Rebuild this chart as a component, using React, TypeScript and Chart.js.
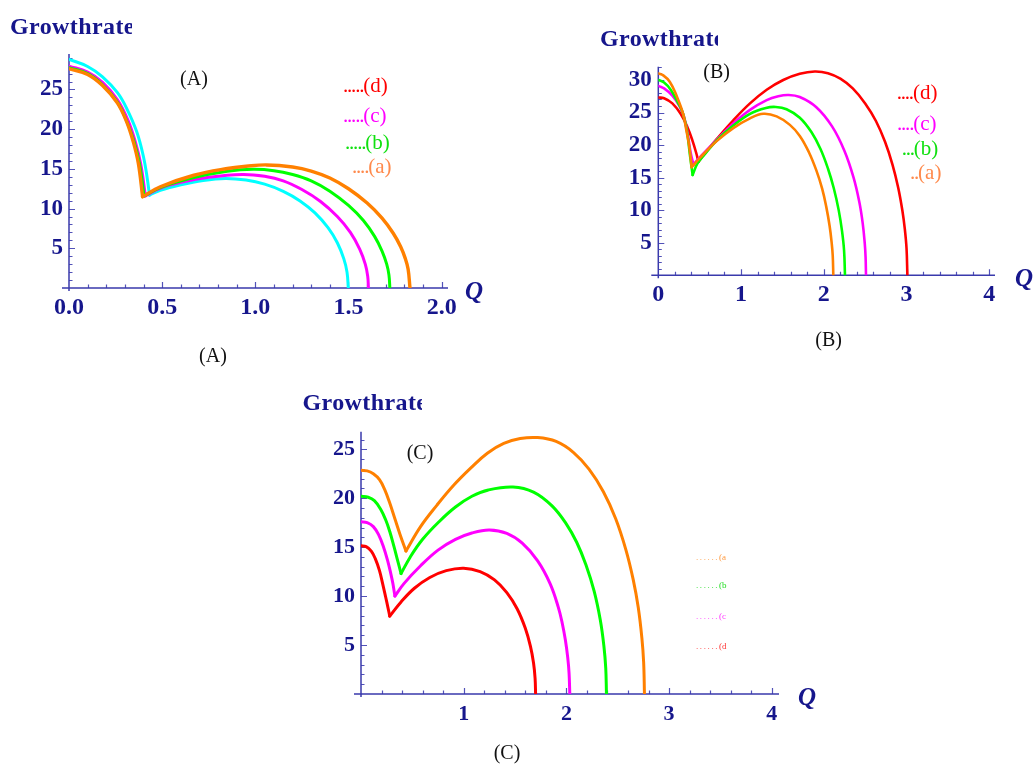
import React, { useEffect, useRef } from 'react';
import { Chart, registerables } from 'chart.js';

Chart.register(...registerables);

const PAGE_W = 1033;
const PAGE_H = 764;
const SERIF = "'Liberation Serif', 'Times New Roman', Times, serif";
const NAVY = '#16168c';
const AXIS_BLUE = '#3a3aac';
const TICK_BLUE = '#5252b8';

const ORANGE = '#ff8000';
const GREEN = '#00ff00';
const MAGENTA = '#ff00ff';
const RED = '#ff0000';
const CYAN = '#00ffff';

// ---------- Panel (A) ----------
const A_xTicks = [0, 0.5, 1, 1.5, 2];
const A_yTicks = [5, 10, 15, 20, 25];

const A_aQ = [0, 0.1, 0.18, 0.26, 0.31, 0.345, 0.372, 0.395, 0.49, 0.67, 0.85, 0.95, 1.06, 1.2, 1.3, 1.4, 1.5, 1.6, 1.68, 1.74, 1.78, 1.805, 1.82, 1.83];
const A_aG = [27.6, 26.9, 25.5, 23.3, 20.9, 18.4, 15.7, 11.5, 12.75, 14.2, 15.05, 15.33, 15.5, 15.24, 14.73, 13.85, 12.5, 10.7, 8.8, 6.9, 5.2, 3.7, 2.35, 0];

const A_bQ = [0, 0.1, 0.18, 0.26, 0.31, 0.35, 0.378, 0.403, 0.49, 0.67, 0.85, 0.99, 1.1, 1.2, 1.3, 1.4, 1.5, 1.58, 1.64, 1.68, 1.705, 1.717, 1.722];
const A_bG = [27.75, 27.0, 25.6, 23.4, 21.0, 18.4, 15.7, 11.6, 12.65, 13.9, 14.7, 14.95, 14.78, 14.3, 13.5, 12.2, 10.4, 8.5, 6.5, 4.65, 3.0, 1.65, 0];

const A_cQ = [0, 0.1, 0.18, 0.26, 0.315, 0.355, 0.385, 0.41, 0.49, 0.6, 0.75, 0.93, 1.05, 1.15, 1.25, 1.35, 1.44, 1.51, 1.56, 1.59, 1.603, 1.607];
const A_cG = [27.95, 27.2, 25.9, 23.7, 21.2, 18.5, 15.6, 11.6, 12.55, 13.3, 13.95, 14.3, 14.07, 13.5, 12.4, 10.9, 9.0, 7.0, 4.9, 3.0, 1.5, 0];

const A_cyanQ = [0, 0.1, 0.18, 0.26, 0.31, 0.363, 0.4, 0.42, 0.432, 0.49, 0.6, 0.72, 0.84, 0.95, 1.05, 1.15, 1.24, 1.32, 1.39, 1.44, 1.475, 1.492, 1.499];
const A_cyanG = [28.8, 27.9, 26.6, 24.6, 22.6, 19.7, 16.5, 13.8, 11.7, 12.3, 13.0, 13.55, 13.8, 13.6, 13.08, 12.18, 10.97, 9.46, 7.6, 5.7, 3.67, 2.0, 0];

// ---------- Panel (B) ----------
const B_xTicks = [0, 1, 2, 3, 4];
const B_yTicks = [5, 10, 15, 20, 25, 30];

const B_aQ = [0, 0.06, 0.14, 0.22, 0.3, 0.34, 0.375, 0.403, 0.5, 0.705, 0.906, 1.108, 1.27, 1.43, 1.59, 1.71, 1.82, 1.91, 1.98, 2.03, 2.07, 2.095, 2.108, 2.115];
const B_aG = [31.0, 30.7, 29.7, 27.6, 24.8, 22.2, 19.7, 16.6, 18.0, 20.6, 22.6, 24.1, 24.8, 24.4, 23.1, 21.4, 18.9, 16.1, 13.3, 10.5, 7.6, 5.0, 3.0, 0];

const B_bQ = [0, 0.07, 0.15, 0.23, 0.3, 0.35, 0.38, 0.415, 0.47, 0.55, 0.705, 0.906, 1.108, 1.3, 1.42, 1.55, 1.71, 1.85, 1.96, 2.05, 2.12, 2.18, 2.22, 2.245, 2.256];
const B_bG = [30.0, 29.6, 28.5, 26.7, 24.8, 21.8, 18.7, 15.4, 17.1, 18.4, 20.7, 23.0, 24.8, 25.7, 25.85, 25.5, 24.2, 22.0, 19.4, 16.4, 13.4, 10.0, 6.8, 3.8, 0];

const B_cQ = [0, 0.07, 0.17, 0.25, 0.31, 0.36, 0.39, 0.425, 0.5, 0.705, 0.906, 1.108, 1.31, 1.45, 1.57, 1.71, 1.91, 2.1, 2.25, 2.36, 2.43, 2.47, 2.495, 2.505, 2.51];
const B_cG = [29.1, 28.7, 27.6, 26.1, 24.4, 21.3, 18.9, 17.0, 18.1, 20.8, 23.3, 25.4, 26.9, 27.5, 27.7, 27.39, 25.82, 22.87, 19.1, 15.0, 11.2, 8.0, 4.9, 2.8, 0];

const B_dQ = [0, 0.07, 0.17, 0.27, 0.35, 0.41, 0.46, 0.485, 0.55, 0.705, 0.906, 1.108, 1.31, 1.51, 1.71, 1.89, 2.05, 2.2, 2.35, 2.5, 2.63, 2.74, 2.83, 2.9, 2.95, 2.98, 3.0, 3.01];
const B_dG = [27.3, 27.2, 26.4, 24.8, 22.8, 20.8, 18.7, 17.4, 18.5, 20.9, 23.8, 26.4, 28.5, 30.0, 30.95, 31.3, 31.05, 30.2, 28.7, 26.4, 23.7, 20.5, 17.0, 13.4, 9.9, 7.0, 4.1, 0];

// ---------- Panel (C) ----------
const C_xTicks = [1, 2, 3, 4];
const C_yTicks = [5, 10, 15, 20, 25];

const C_aQ = [0, 0.06, 0.12, 0.18, 0.23, 0.28, 0.33, 0.38, 0.438, 0.58, 0.74, 0.9, 1.07, 1.23, 1.39, 1.55, 1.72, 1.9, 2.07, 2.22, 2.36, 2.48, 2.58, 2.65, 2.7, 2.735, 2.752, 2.76];
const C_aG = [22.85, 22.8, 22.5, 21.9, 20.9, 19.5, 17.9, 16.3, 14.6, 17.1, 19.3, 21.3, 23.1, 24.6, 25.6, 26.1, 26.2, 25.8, 24.67, 22.97, 20.66, 17.9, 14.7, 11.7, 8.8, 5.7, 3.25, 0];

const C_bQ = [0, 0.07, 0.13, 0.19, 0.24, 0.28, 0.32, 0.355, 0.39, 0.48, 0.6, 0.76, 0.92, 1.08, 1.24, 1.48, 1.68, 1.86, 2.0, 2.1, 2.19, 2.27, 2.33, 2.365, 2.383, 2.39];
const C_bG = [20.2, 20.1, 19.75, 18.9, 17.8, 16.6, 15.1, 13.7, 12.3, 14.0, 15.8, 17.6, 19.1, 20.2, 20.85, 21.15, 20.63, 19.22, 17.36, 15.5, 13.2, 10.5, 7.55, 4.9, 2.65, 0];

const C_cQ = [0, 0.06, 0.12, 0.17, 0.22, 0.26, 0.29, 0.31, 0.33, 0.42, 0.58, 0.75, 0.92, 1.08, 1.25, 1.42, 1.57, 1.72, 1.84, 1.92, 1.96, 1.99, 2.013, 2.026, 2.033];
const C_cG = [17.6, 17.5, 17.1, 16.3, 15.0, 13.6, 12.3, 11.3, 10.0, 11.3, 13.1, 14.7, 15.8, 16.45, 16.75, 16.4, 15.4, 13.6, 11.3, 8.9, 7.2, 5.5, 3.7, 2.1, 0];

const C_dQ = [0, 0.05, 0.1, 0.14, 0.18, 0.21, 0.24, 0.262, 0.28, 0.39, 0.52, 0.67, 0.83, 1.0, 1.16, 1.3, 1.42, 1.52, 1.6, 1.65, 1.68, 1.695, 1.7];
const C_dG = [15.15, 15.05, 14.6, 13.8, 12.6, 11.3, 9.9, 8.85, 7.95, 9.4, 10.8, 11.9, 12.6, 12.85, 12.5, 11.65, 10.35, 8.7, 6.7, 4.85, 3.15, 1.6, 0];

type Curve = { q: number[]; g: number[]; color: string; width: number };

type Panel = {
  area: { left: number; top: number; right: number; bottom: number };
  xMax: number;
  yMax: number;
  xTicks: number[];
  yTicks: number[];
  xFmt: (v: number) => string;
  xMinor: number;
  xMajor: number;
  yMinor: number;
  yMajor: number;
  xFont: number;
  yFont: number;
  xPad: number;
  yPad: number;
  curves: Curve[]; // first entry is drawn on top
};

const PANEL_A: Panel = {
  area: { left: 69, top: 54, right: 448, bottom: 288 },
  xMax: 2.034,
  yMax: 29.47,
  xTicks: A_xTicks,
  yTicks: A_yTicks,
  xFmt: (v) => v.toFixed(1),
  xMinor: 0.1,
  xMajor: 0.5,
  yMinor: 1,
  yMajor: 5,
  xFont: 24,
  yFont: 23,
  xPad: 5,
  yPad: 6,
  curves: [
    { q: A_aQ, g: A_aG, color: ORANGE, width: 3.4 },
    { q: A_bQ, g: A_bG, color: GREEN, width: 3 },
    { q: A_cQ, g: A_cG, color: MAGENTA, width: 3 },
    { q: A_cyanQ, g: A_cyanG, color: CYAN, width: 3 },
  ],
};

const PANEL_B: Panel = {
  area: { left: 658.3, top: 66.7, right: 995, bottom: 275.2 },
  xMax: 4.069,
  yMax: 32.04,
  xTicks: B_xTicks,
  yTicks: B_yTicks,
  xFmt: (v) => String(v),
  xMinor: 0.2,
  xMajor: 1,
  yMinor: 1,
  yMajor: 5,
  xFont: 24,
  yFont: 23,
  xPad: 5,
  yPad: 6.5,
  curves: [
    { q: B_aQ, g: B_aG, color: ORANGE, width: 2.6 },
    { q: B_bQ, g: B_bG, color: GREEN, width: 2.6 },
    { q: B_cQ, g: B_cG, color: MAGENTA, width: 2.6 },
    { q: B_dQ, g: B_dG, color: RED, width: 2.6 },
  ],
};

const PANEL_C: Panel = {
  area: { left: 361, top: 431.7, right: 779, bottom: 693.9 },
  xMax: 4.07,
  yMax: 26.8,
  xTicks: C_xTicks,
  yTicks: C_yTicks,
  xFmt: (v) => String(v),
  xMinor: 0.2,
  xMajor: 1,
  yMinor: 1,
  yMajor: 5,
  xFont: 22,
  yFont: 22,
  xPad: 7,
  yPad: 6,
  curves: [
    { q: C_aQ, g: C_aG, color: ORANGE, width: 3 },
    { q: C_bQ, g: C_bG, color: GREEN, width: 3 },
    { q: C_cQ, g: C_cG, color: MAGENTA, width: 3 },
    { q: C_dQ, g: C_dG, color: RED, width: 3 },
  ],
};

// index of the cusp: the first interior local minimum of the growth values
function cuspIndex(g: number[]): number {
  for (let i = 1; i < g.length - 1; i++) {
    if (g[i] < g[i - 1] && g[i] < g[i + 1]) return i;
  }
  return g.length - 1;
}

// Mathematica-style axes through the origin with inward major/minor ticks
function axesPlugin(p: Panel) {
  return {
    id: 'mathAxes',
    beforeDatasetsDraw(chart: any) {
      const { ctx, chartArea: ca } = chart;
      const xs = chart.scales.x;
      const ys = chart.scales.y;
      const x0 = xs.getPixelForValue(0);
      const y0 = ys.getPixelForValue(0);
      ctx.save();
      ctx.strokeStyle = TICK_BLUE;
      ctx.lineWidth = 1.2;
      ctx.beginPath();
      const isMult = (v: number, m: number) => Math.abs(v / m - Math.round(v / m)) < 1e-6;
      for (let k = 1; k * p.xMinor <= p.xMax + 1e-9; k++) {
        const v = k * p.xMinor;
        const px = Math.round(xs.getPixelForValue(v)) + 0.5;
        const len = isMult(v, p.xMajor) ? 6 : 3.5;
        ctx.moveTo(px, y0);
        ctx.lineTo(px, y0 - len);
      }
      for (let k = 1; k * p.yMinor <= p.yMax + 1e-9; k++) {
        const v = k * p.yMinor;
        const py = Math.round(ys.getPixelForValue(v)) + 0.5;
        const len = isMult(v, p.yMajor) ? 6 : 3.5;
        ctx.moveTo(x0, py);
        ctx.lineTo(x0 + len, py);
      }
      ctx.stroke();
      ctx.strokeStyle = AXIS_BLUE;
      ctx.lineWidth = 1.5;
      ctx.beginPath();
      ctx.moveTo(ca.left - 7, y0);
      ctx.lineTo(ca.right, y0);
      ctx.moveTo(x0, ca.bottom + 3);
      ctx.lineTo(x0, ca.top);
      ctx.stroke();
      ctx.restore();
    },
  };
}

function PanelChart({ panel }: { panel: Panel }) {
  const ref = useRef<HTMLCanvasElement | null>(null);

  useEffect(() => {
    const canvas = ref.current;
    if (!canvas) return;
    const p = panel;
    const datasets: any[] = [];
    p.curves.forEach((cv) => {
      const k = cuspIndex(cv.g);
      const pts = cv.q.map((q, i) => ({ x: q, y: cv.g[i] }));
      const base = {
        borderColor: cv.color,
        backgroundColor: cv.color,
        borderWidth: cv.width,
        pointRadius: 0,
        fill: false,
        tension: 0.4,
        borderCapStyle: 'round',
        borderJoinStyle: 'round',
      };
      // falling branch up to the cusp, then the hump after it
      datasets.push({ ...base, data: pts.slice(0, k + 1) });
      datasets.push({ ...base, data: pts.slice(k) });
    });

    const Y_AXIS_W = 60;
    const tickFont = (size: number) => ({ family: SERIF, size, weight: 'bold' as const });

    const chart = new Chart(canvas, {
      type: 'line',
      data: { datasets },
      options: {
        responsive: false,
        animation: false,
        devicePixelRatio: 1,
        events: [],
        layout: {
          padding: {
            left: p.area.left - Y_AXIS_W,
            top: p.area.top,
            right: PAGE_W - p.area.right,
            bottom: 0,
          },
        },
        plugins: {
          legend: { display: false },
          tooltip: { enabled: false },
          title: { display: false },
        },
        scales: {
          x: {
            type: 'linear',
            min: 0,
            max: p.xMax,
            bounds: 'data',
            grid: { display: false, drawTicks: false },
            border: { display: false },
            ticks: {
              autoSkip: false,
              maxRotation: 0,
              minRotation: 0,
              padding: p.xPad,
              color: NAVY,
              font: tickFont(p.xFont),
              callback: (v: any) => p.xFmt(Number(v)),
            },
            afterBuildTicks: (s: any) => {
              s.ticks = p.xTicks.map((v) => ({ value: v }));
            },
            afterFit: (s: any) => {
              s.height = PAGE_H - p.area.bottom;
            },
          },
          y: {
            type: 'linear',
            min: 0,
            max: p.yMax,
            bounds: 'data',
            grid: { display: false, drawTicks: false },
            border: { display: false },
            ticks: {
              autoSkip: false,
              padding: p.yPad,
              color: NAVY,
              font: tickFont(p.yFont),
              callback: (v: any) => String(v),
            },
            afterBuildTicks: (s: any) => {
              s.ticks = p.yTicks.map((v) => ({ value: v }));
            },
            afterFit: (s: any) => {
              s.width = Y_AXIS_W;
            },
          },
        },
      } as any,
      plugins: [axesPlugin(p)],
    });
    return () => chart.destroy();
  }, [panel]);

  return (
    <canvas
      ref={ref}
      width={PAGE_W}
      height={PAGE_H}
      style={{ position: 'absolute', left: 0, top: 0, width: PAGE_W, height: PAGE_H }}
    />
  );
}

type TextItem = {
  text: string;
  x: number;
  y: number;
  size: number;
  color: string;
  bold?: boolean;
  italic?: boolean;
  center?: boolean;
  clip?: number;
  spacing?: number;
};

function Txt({ t }: { t: TextItem }) {
  return (
    <div
      style={{
        position: 'absolute',
        left: t.x,
        top: t.y,
        transform: t.center ? 'translate(-50%, -50%)' : 'translateY(-50%)',
        fontFamily: SERIF,
        fontSize: t.size,
        fontWeight: t.bold ? 'bold' : 'normal',
        fontStyle: t.italic ? 'italic' : 'normal',
        lineHeight: 1,
        whiteSpace: 'nowrap',
        color: t.color,
        letterSpacing: t.spacing ?? 0,
        width: t.clip,
        overflow: t.clip ? 'hidden' : 'visible',
      }}
    >
      {t.text}
    </div>
  );
}

type LegendItem = { dots: number; label: string; color: string; x: number; y: number; size: number; dotGap: number };

function Legend({ it }: { it: LegendItem }) {
  return (
    <div
      style={{
        position: 'absolute',
        left: it.x,
        top: it.y,
        transform: 'translateY(-50%)',
        fontFamily: SERIF,
        fontSize: it.size,
        lineHeight: 1,
        whiteSpace: 'nowrap',
        color: it.color,
      }}
    >
      <span style={{ letterSpacing: it.dotGap }}>{'.'.repeat(it.dots)}</span>
      {it.label}
    </div>
  );
}

const TEXTS: TextItem[] = [
  // axis titles
  { text: 'Growthrate', x: 10, y: 25.5, size: 24, color: NAVY, bold: true, clip: 122, spacing: 0.4 },
  { text: 'Growthrate', x: 600, y: 38, size: 24, color: NAVY, bold: true, clip: 118, spacing: 0.4 },
  { text: 'Growthrate', x: 302.5, y: 402, size: 24, color: NAVY, bold: true, clip: 119, spacing: 0.4 },
  { text: 'Q', x: 474, y: 290, size: 25, color: NAVY, bold: true, italic: true, center: true },
  { text: 'Q', x: 1024, y: 277, size: 25, color: NAVY, bold: true, italic: true, center: true },
  { text: 'Q', x: 807, y: 696, size: 25, color: NAVY, bold: true, italic: true, center: true },
  // panel tags inside the plots
  { text: '(A)', x: 194, y: 78, size: 20, color: '#111', center: true },
  { text: '(B)', x: 716.7, y: 71, size: 20, color: '#111', center: true },
  { text: '(C)', x: 420, y: 451.5, size: 20, color: '#111', center: true },
  // captions under the plots
  { text: '(A)', x: 213, y: 355, size: 20, color: '#111', center: true },
  { text: '(B)', x: 828.7, y: 339, size: 20, color: '#111', center: true },
  { text: '(C)', x: 507, y: 752, size: 20, color: '#111', center: true },
];

const LEGENDS: LegendItem[] = [
  { dots: 5, label: '(d)', color: RED, x: 343, y: 85, size: 21, dotGap: -1.2 },
  { dots: 5, label: '(c)', color: MAGENTA, x: 343, y: 115, size: 21, dotGap: -1.2 },
  { dots: 5, label: '(b)', color: '#10e010', x: 345, y: 141.7, size: 21, dotGap: -1.2 },
  { dots: 4, label: '(a)', color: '#ff8a4c', x: 352, y: 166, size: 21, dotGap: -1.2 },

  { dots: 4, label: '(d)', color: RED, x: 896.7, y: 91.7, size: 21, dotGap: -1.2 },
  { dots: 4, label: '(c)', color: MAGENTA, x: 897, y: 123.3, size: 21, dotGap: -1.2 },
  { dots: 3, label: '(b)', color: '#10e010', x: 901.7, y: 148.3, size: 21, dotGap: -1.2 },
  { dots: 2, label: '(a)', color: '#ff8a4c', x: 910, y: 171.7, size: 21, dotGap: -1.2 },

  { dots: 6, label: '(a', color: '#ff9a40', x: 696, y: 557.3, size: 9, dotGap: 1.6 },
  { dots: 6, label: '(b', color: '#22dd22', x: 696, y: 585, size: 9, dotGap: 1.6 },
  { dots: 6, label: '(c', color: '#ff33ff', x: 696, y: 615.7, size: 9, dotGap: 1.6 },
  { dots: 6, label: '(d', color: '#ff3333', x: 696, y: 646, size: 9, dotGap: 1.6 },
];

export default function App() {
  return (
    <div
      style={{
        position: 'absolute',
        left: 0,
        top: 0,
        width: PAGE_W,
        height: PAGE_H,
        background: '#fff',
        overflow: 'hidden',
      }}
    >
      <PanelChart panel={PANEL_A} />
      <PanelChart panel={PANEL_B} />
      <PanelChart panel={PANEL_C} />
      {TEXTS.map((t, i) => (
        <Txt key={'t' + i} t={t} />
      ))}
      {LEGENDS.map((it, i) => (
        <Legend key={'l' + i} it={it} />
      ))}
    </div>
  );
}
